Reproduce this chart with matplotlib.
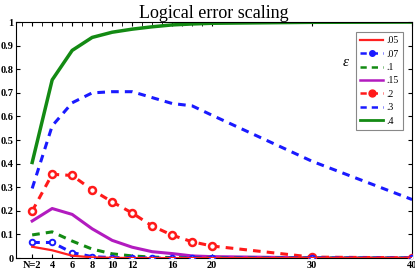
import matplotlib
matplotlib.use('Agg')
import matplotlib.pyplot as plt
from matplotlib.lines import Line2D

plt.rcParams['font.family'] = 'Liberation Serif'

N = [2, 4, 6, 8, 10, 12, 14, 16, 18, 20, 30, 40]
eps05 = [0.048, 0.033, 0.01, 0.003, 0.001, 0.0, 0.0, 0.0, 0.0, 0.0, 0.0, 0.0]
eps07 = [0.066, 0.066, 0.023, 0.006, 0.002, 0.001, 0.0, 0.0, 0.0, 0.0, 0.0, 0.0]
eps10 = [0.098, 0.111, 0.072, 0.038, 0.018, 0.009, 0.004, 0.002, 0.001, 0.0, 0.0, 0.0]
eps15 = [0.157, 0.21, 0.185, 0.124, 0.075, 0.046, 0.027, 0.019, 0.009, 0.006, 0.001, 0.0]
eps20 = [0.199, 0.355, 0.35, 0.289, 0.238, 0.191, 0.136, 0.097, 0.069, 0.051, 0.004, 0.001]
eps30 = [0.295, 0.56, 0.658, 0.7, 0.705, 0.705, 0.68, 0.655, 0.645, 0.605, 0.41, 0.248]
eps40 = [0.405, 0.755, 0.88, 0.935, 0.957, 0.97, 0.98, 0.988, 0.992, 0.995, 0.999, 1.0]

xticks = [2, 4, 6, 8, 10, 12, 16, 20, 30, 40]
xlabels = ['N=2', '4', '6', '8', '10', '12', '16', '20', '30', '40']
yticks = [0, 0.1, 0.2, 0.3, 0.4, 0.5, 0.6, 0.7, 0.8, 0.9, 1.0]
ylabels = ['0', '0.1', '0.2', '0.3', '0.4', '0.5', '0.6', '0.7', '0.8', '0.9', '1']

fig = plt.figure(figsize=(4.15, 2.76), dpi=100)
ax = fig.add_axes([0.039, 0.065, 0.954, 0.855])

lw = 2.2
ax.plot(N, eps05, color='#ff2020', lw=lw - 0.6, zorder=6)
ax.plot(N, eps07, color='#1a1aff', lw=lw, ls=(0, (2.5, 2)), marker='o', ms=4,
        mfc='white', mec='#1a1aff', mew=1.4, zorder=5)
ax.plot(N, eps10, color='#138a13', lw=lw, ls=(0, (2.5, 2)), zorder=4)
ax.plot(N, eps15, color='#b21bbf', lw=lw, zorder=3)
ax.plot(N, eps20, color='#ff1a1a', lw=lw, ls=(0, (2.5, 2)), marker='o', ms=5,
        mfc='white', mec='#ff1a1a', mew=1.8, zorder=4)
ax.plot(N, eps30, color='#1a1aff', lw=lw, ls=(0, (2.5, 2)), zorder=2)
ax.plot(N, eps40, color='#138a13', lw=lw + 0.3, zorder=2)

ax.set_xlim(0.4, 40)
ax.set_ylim(0, 1)
ax.set_xticks(xticks)
ax.set_xticklabels(xlabels, fontweight='bold', fontsize=7.5)
ax.set_yticks(yticks)
ax.set_yticklabels(ylabels, fontweight='bold', fontsize=7.5)
ax.set_xticks(list(range(1, 21)) + [30], minor=True)
ax.tick_params(axis='x', which='minor', bottom=False, top=True, direction='in', length=3)
ax.tick_params(axis='both', which='major', direction='in', length=3, pad=2,
               top=True, right=True)
for s in ax.spines.values():
    s.set_linewidth(0.8)

ax.set_title('Logical error scaling', fontsize=13, pad=3)

handles = [
    Line2D([], [], color='#ff2020', lw=1.6),
    Line2D([], [], color='#1a1aff', lw=1.8, ls=(0, (2.5, 2)), marker='o', ms=4, mfc='#1a1aff', mec='#1a1aff'),
    Line2D([], [], color='#138a13', lw=1.8, ls=(0, (2.5, 2))),
    Line2D([], [], color='#b21bbf', lw=1.8),
    Line2D([], [], color='#ff1a1a', lw=1.8, ls=(0, (2.5, 2)), marker='o', ms=5, mfc='#ff1a1a', mec='#ff1a1a'),
    Line2D([], [], color='#1a1aff', lw=1.8, ls=(0, (2.5, 2))),
    Line2D([], [], color='#138a13', lw=2.0),
]
labels = ['.05', '.07', '.1', '.15', '.2', '.3', '.4']
leg = ax.legend(handles, labels, loc='upper right', bbox_to_anchor=(0.978, 0.958),
                fontsize=7, handlelength=2.4, handletextpad=0.35, labelspacing=0.45,
                borderpad=0.45, borderaxespad=0, fancybox=False, framealpha=1,
                edgecolor='#888888')
leg.get_frame().set_linewidth(0.8)
leg.set_zorder(10)

fig.text(0.832, 0.775, 'ε', fontsize=11, style='italic', ha='center', va='center')

fig.savefig('out.png', dpi=100)
